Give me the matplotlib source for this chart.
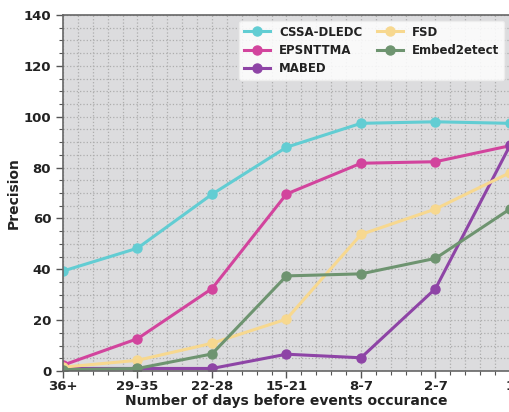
import matplotlib
matplotlib.use('Agg')
import matplotlib.pyplot as plt
from matplotlib.ticker import MultipleLocator, AutoMinorLocator

days = ['36+', '29-35', '22-28', '15-21', '8-7', '2-7', '1']
cssa = [39.3, 48.3, 69.5, 88.0, 97.4, 98.0, 97.4]
epsnttma = [2.3, 12.7, 32.4, 69.6, 81.7, 82.3, 88.6]
mabed = [1.0, 1.0, 1.0, 6.6, 5.2, 32.4, 88.7]
fsd = [1.5, 4.2, 10.9, 20.4, 53.7, 63.7, 78.0]
embed = [0.5, 1.0, 6.7, 37.4, 38.2, 44.3, 63.7]

names = ['CSSA-DLEDC', 'EPSNTTMA', 'MABED', 'FSD', 'Embed2etect']
series = [cssa, epsnttma, mabed, fsd, embed]
colors = ['#62cdd3', '#d2449d', '#8e44a6', '#f7d88f', '#6e9470']

fig = plt.figure(figsize=(5.10, 4.12), dpi=100)
ax = fig.add_axes([63 / 510, 1 - 371 / 412, 1 - 63 / 510, (371 - 15) / 412])
ax.set_facecolor('#dcdcde')

x = list(range(len(days)))
for name, vals, c in zip(names, series, colors):
    ax.plot(x, vals, color=c, marker='o', linewidth=2.2, markersize=6.5, label=name)

ax.set_xlim(0, len(days) - 1)
ax.set_ylim(0, 140)
ax.set_xticks(x)
ax.set_xticklabels(days)
ax.yaxis.set_major_locator(MultipleLocator(20))
ax.yaxis.set_minor_locator(MultipleLocator(5))
ax.xaxis.set_minor_locator(AutoMinorLocator(5))

ax.grid(which='both', color='#adadad', linestyle=':', linewidth=0.9)
ax.set_axisbelow(True)

for lab in ax.get_xticklabels() + ax.get_yticklabels():
    lab.set_fontweight('bold')
    lab.set_fontsize(9.5)
    lab.set_color('#222222')
ax.tick_params(which='major', length=5, width=1, color='#555555')
ax.tick_params(axis='x', which='major', pad=1.5)
ax.tick_params(which='minor', length=3, width=0.8, color='#555555')

for s in ax.spines.values():
    s.set_color('#666666')
    s.set_linewidth(1.2)

ax.set_xlabel('Number of days before events occurance', fontsize=10, fontweight='bold', color='#222222', labelpad=1)
ax.set_ylabel('Precision', fontsize=10, fontweight='bold', color='#222222', labelpad=2)

leg = ax.legend(ncol=2, loc='upper right', prop={'weight': 'bold', 'size': 8.5},
                frameon=True, framealpha=0.85, facecolor='white', edgecolor='#eeeeee',
                handlelength=2.2, columnspacing=1.2, borderaxespad=0.5, labelspacing=0.45)
for t in leg.get_texts():
    t.set_color('#222222')

fig.savefig('out.png', dpi=100)
